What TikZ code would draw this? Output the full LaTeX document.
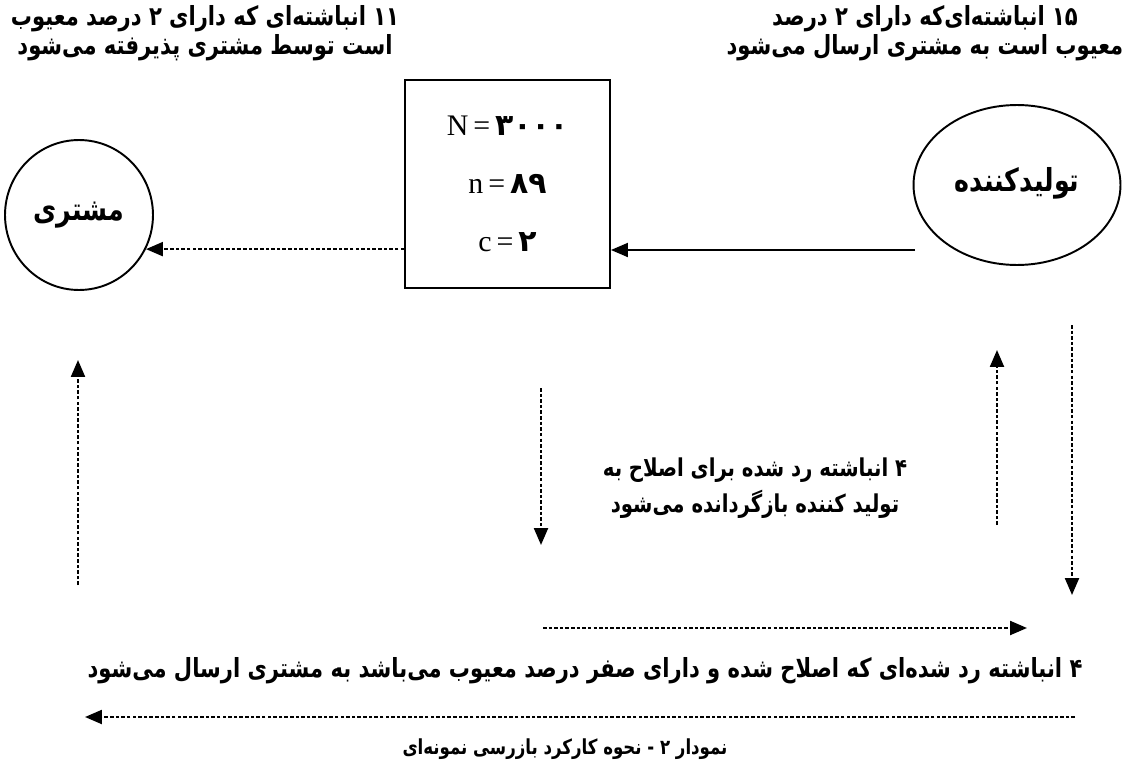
\documentclass[tikz,border=0pt]{standalone}
\usepackage{fontspec}
\setmainfont{Liberation Serif}
\newfontfamily\fa[Script=Arabic, FakeStretch=0.8]{DejaVu Sans}
\newfontfamily\fanum[Script=Arabic]{DejaVu Sans}
\TeXXeTstate=1
\usepackage{tikz}
\usetikzlibrary{arrows.meta, positioning, shapes.geometric}
\tikzset{
	farsi/.style={font=\fa\bfseries\fontsize{15}{16.5}\selectfont, align=center, inner sep=0pt},
	party/.style={draw, ellipse, line width=1.1pt, inner sep=0pt, font=\fa\bfseries\fontsize{18}{20}\selectfont},
	planbox/.style={draw, line width=1.1pt, minimum width=4.1cm, minimum height=4.16cm, align=center, font=\fontsize{17}{33}\selectfont},
	solidarr/.style={-{Triangle[length=3.4mm, width=2.8mm]}, line width=1.1pt},
	dotarr/.style={-{Triangle[length=3.4mm, width=2.8mm]}, line width=1.3pt, dash pattern=on 2pt off 1.2pt},
}

\begin{document}
\begin{tikzpicture}[x=0.02cm, y=-0.02cm]
	\useasboundingbox (0,0) rectangle (1136,767);
	% Top labels
	\node[farsi] (lbltl) at (205,33) {\beginR ۱۱ انباشته‌ای که دارای ۲ درصد معیوب\endR\\\beginR است توسط مشتری پذیرفته می‌شود\endR};
	\node[farsi] (lbltr) at (925,33) {\beginR ۱۵ انباشته‌ای‌که دارای ۲ درصد\endR\\\beginR معیوب است به مشتری ارسال می‌شود\endR};
	% Customer, sampling plan, producer
	\node[party, minimum width=2.96cm, minimum height=3cm] (buyer) at (79,215) {\raisebox{-5pt}{\beginR مشتری\endR}};
	\node[planbox] (plan) at (507.5,184) {N\,=\,{\fanum\bfseries ۳۰۰۰}\\n\,=\,{\fanum\bfseries ۸۹}\\c\,=\,{\fanum\bfseries ۲}};
	\node[party, minimum width=4.14cm, minimum height=3.2cm] (maker) at (1017,185) {\raisebox{6pt}{\beginR تولیدکننده\endR}};
	% Arrows between them
	\coordinate (makerout) at (915,250);
	\draw[solidarr] (makerout) -- (plan.east |- makerout);
	\draw[dotarr] (plan.west |- buyer.-27) -- (buyer.-27);
	% Vertical returns
	\coordinate (backlo) at (78,585);
	\coordinate (backhi) at (78,360);
	\draw[dotarr] (backlo) -- (backhi);
	\coordinate (rejhi) at (541,388);
	\coordinate (rejlo) at (541,545);
	\draw[dotarr] (rejhi) -- (rejlo);
	\coordinate (fixlo) at (997,525);
	\coordinate (fixhi) at (997,350);
	\draw[dotarr] (fixlo) -- (fixhi);
	\coordinate (downhi) at (1072,325);
	\coordinate (downlo) at (1072,595);
	\draw[dotarr] (downhi) -- (downlo);
	% Middle note
	\node[farsi, font=\fa\bfseries\fontsize{14}{20.5}\selectfont] (lblmid) at (755,488) {\beginR ۴ انباشته رد شده برای اصلاح به\endR\\\beginR تولید کننده بازگردانده می‌شود\endR};
	% Bottom flows
	\coordinate (rowl) at (543,628);
	\coordinate (rowr) at (1027,628);
	\draw[dotarr] (rowl) -- (rowr);
	\node[farsi] (lblbot) at (585,671) {\beginR ۴ انباشته رد شده‌ای که اصلاح شده و دارای صفر درصد معیوب می‌باشد به مشتری ارسال می‌شود\endR};
	\coordinate (retr) at (1075,717);
	\coordinate (retl) at (85,717);
	\draw[dotarr] (retr) -- (retl);
	% Caption
	\node[farsi, font=\fa\bfseries\fontsize{11.8}{16}\selectfont] (caption) at (565,749) {\beginR نمودار ۲ - نحوه کارکرد بازرسی نمونه‌ای\endR};
\end{tikzpicture}
\end{document}
